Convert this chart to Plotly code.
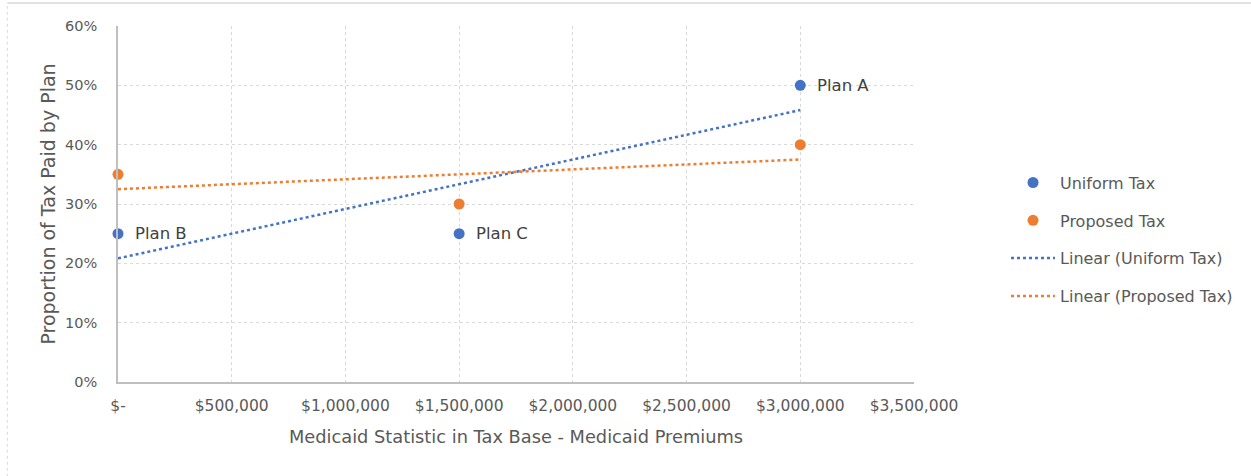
import numpy as np
import plotly.graph_objects as go

# Data
x_values = [0, 1500000, 3000000]
uniform_tax = [0.25, 0.25, 0.50]
proposed_tax = [0.35, 0.30, 0.40]
plan_labels = ["Plan B", "Plan C", "Plan A"]

x_tickvals = [0, 500000, 1000000, 1500000, 2000000, 2500000, 3000000, 3500000]
x_ticktext = ["$-", "$500,000", "$1,000,000", "$1,500,000", "$2,000,000",
              "$2,500,000", "$3,000,000", "$3,500,000"]
y_tickvals = [0, 0.1, 0.2, 0.3, 0.4, 0.5, 0.6]
y_ticktext = ["0%", "10%", "20%", "30%", "40%", "50%", "60%"]

BLUE = "#4472C4"
ORANGE = "#ED7D31"
TXT = "#595959"
FONT = "DejaVu Sans"

xs = np.array(x_values, dtype=float)
u_fit = np.polyfit(xs, uniform_tax, 1)
p_fit = np.polyfit(xs, proposed_tax, 1)
x_line = [xs.min(), xs.max()]

fig = go.Figure()
fig.add_trace(go.Scatter(x=x_values, y=uniform_tax, mode="markers", name="Uniform Tax",
                         marker=dict(color=BLUE, size=11), legendgroup="a", cliponaxis=False))
fig.add_trace(go.Scatter(x=x_values, y=proposed_tax, mode="markers", name="Proposed Tax",
                         marker=dict(color=ORANGE, size=11), legendgroup="b", cliponaxis=False))
fig.add_trace(go.Scatter(x=x_line, y=list(np.polyval(u_fit, x_line)), mode="lines",
                         name="Linear (Uniform Tax)", legendgroup="c",
                         line=dict(color=BLUE, width=2.5, dash="dot")))
fig.add_trace(go.Scatter(x=x_line, y=list(np.polyval(p_fit, x_line)), mode="lines",
                         name="Linear (Proposed Tax)", legendgroup="d",
                         line=dict(color=ORANGE, width=2.5, dash="dot")))

for xv, yv, lab in zip(x_values, uniform_tax, plan_labels):
    fig.add_annotation(x=xv, y=yv, text=lab, showarrow=False, xanchor="left",
                       xshift=15, font=dict(family=FONT, size=16.5, color="#404040"))

fig.update_layout(
    width=1251, height=476,
    margin=dict(l=118, r=337, t=26, b=94),
    paper_bgcolor="white", plot_bgcolor="white",
    font=dict(family=FONT, size=14, color=TXT),
    showlegend=True,
    legend=dict(x=1.1156, y=0.4, xanchor="left", yanchor="middle",
                itemwidth=44, tracegroupgap=14,
                font=dict(family=FONT, size=16, color=TXT),
                bgcolor="rgba(0,0,0,0)"),
    shapes=[
        dict(type="line", xref="paper", yref="paper", x0=-0.139, x1=1.5, y0=1.0646, y1=1.0646,
             line=dict(color="#d9d9d9", width=1.5)),
        dict(type="line", xref="paper", yref="paper", x0=-0.139, x1=-0.139, y0=-0.3, y1=1.0646,
             line=dict(color="#d9d9d9", width=1, dash="dot")),
    ],
)
fig.update_xaxes(range=[0, 3500000], tickvals=x_tickvals, ticktext=x_ticktext,
                 tickfont=dict(family=FONT, size=15.5, color=TXT),
                 showgrid=True, gridcolor="#d9d9d9", griddash="dot", gridwidth=1,
                 showline=True, linecolor="#bfbfbf", linewidth=1.5, zeroline=False,
                 ticklabelstandoff=9,
                 title=dict(text="Medicaid Statistic in Tax Base - Medicaid Premiums",
                            font=dict(family=FONT, size=17.8, color=TXT), standoff=16))
fig.update_yaxes(range=[0, 0.6], tickvals=y_tickvals, ticktext=y_ticktext,
                 tickfont=dict(family=FONT, size=14.5, color=TXT),
                 showgrid=True, gridcolor="#d9d9d9", griddash="dot", gridwidth=1,
                 showline=True, linecolor="#bfbfbf", linewidth=1.5, zeroline=False,
                 ticklabelstandoff=16,
                 title=dict(text="Proportion of Tax Paid by Plan",
                            font=dict(family=FONT, size=19, color=TXT), standoff=4))

fig.write_html("out.html")
